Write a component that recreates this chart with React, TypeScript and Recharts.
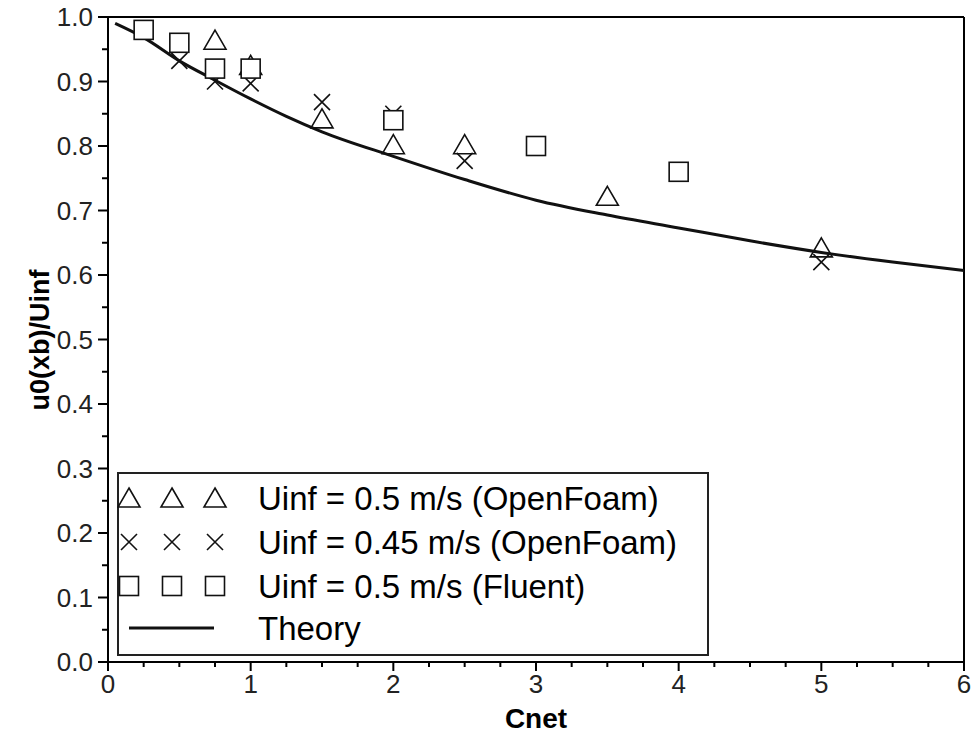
import React from 'react'
import {
  ComposedChart,
  Line,
  Scatter,
  XAxis,
  YAxis,
  ReferenceLine,
  Legend
} from 'recharts'

// measured points, [Cnet, u0(xb)/Uinf]
const openFoam05 = [
  { x: 0.75, y: 0.964 },
  { x: 1.0, y: 0.925 },
  { x: 1.5, y: 0.842 },
  { x: 2.0, y: 0.802 },
  { x: 2.5, y: 0.802 },
  { x: 3.5, y: 0.722 },
  { x: 5.0, y: 0.642 }
]

const openFoam045 = [
  { x: 0.5, y: 0.932 },
  { x: 0.75, y: 0.9 },
  { x: 1.0, y: 0.897 },
  { x: 1.5, y: 0.868 },
  { x: 2.0, y: 0.85 },
  { x: 2.5, y: 0.777 },
  { x: 5.0, y: 0.62 }
]

const fluent05 = [
  { x: 0.25, y: 0.98 },
  { x: 0.5, y: 0.96 },
  { x: 0.75, y: 0.92 },
  { x: 1.0, y: 0.92 },
  { x: 2.0, y: 0.84 },
  { x: 3.0, y: 0.8 },
  { x: 4.0, y: 0.76 }
]

const theory = [
  { x: 0.05, y: 0.99 },
  { x: 0.25, y: 0.968 },
  { x: 0.5, y: 0.932 },
  { x: 0.75, y: 0.902 },
  { x: 1.0, y: 0.873 },
  { x: 1.25, y: 0.846 },
  { x: 1.5, y: 0.822 },
  { x: 2.0, y: 0.784 },
  { x: 2.5, y: 0.748 },
  { x: 3.0, y: 0.716 },
  { x: 3.5, y: 0.693 },
  { x: 4.0, y: 0.673 },
  { x: 4.5, y: 0.653 },
  { x: 5.0, y: 0.635 },
  { x: 5.5, y: 0.62 },
  { x: 6.0, y: 0.607 }
]

const xTicks = [0, 0.25, 0.5, 0.75, 1, 1.25, 1.5, 1.75, 2, 2.25, 2.5, 2.75, 3, 3.25, 3.5, 3.75, 4, 4.25, 4.5, 4.75, 5, 5.25, 5.5, 5.75, 6]
const yTicks = [0, 0.05, 0.1, 0.15, 0.2, 0.25, 0.3, 0.35, 0.4, 0.45, 0.5, 0.55, 0.6, 0.65, 0.7, 0.75, 0.8, 0.85, 0.9, 0.95, 1]

const legendItems = [
  { name: 'Uinf = 0.5 m/s (OpenFoam)', mark: 'triangle' },
  { name: 'Uinf = 0.45 m/s (OpenFoam)', mark: 'cross' },
  { name: 'Uinf = 0.5 m/s (Fluent)', mark: 'square' },
  { name: 'Theory', mark: 'line' }
]

const FONT = '"Liberation Sans", Arial, sans-serif'
const INK = '#111'

const Triangle = ({ cx, cy }: any) => (
  <path
    d={`M${cx},${cy - 10} L${cx + 11},${cy + 9} L${cx - 11},${cy + 9} Z`}
    fill="none"
    stroke={INK}
    strokeWidth={1.6}
  />
)

const Cross = ({ cx, cy }: any) => (
  <path
    d={`M${cx - 8},${cy - 8} L${cx + 8},${cy + 8} M${cx - 8},${cy + 8} L${cx + 8},${cy - 8}`}
    stroke={INK}
    strokeWidth={1.6}
  />
)

const Square = ({ cx, cy }: any) => (
  <rect x={cx - 9.5} y={cy - 9.5} width={19} height={19} fill="#fff" stroke={INK} strokeWidth={1.6} />
)

const isMajor = (v: number, step: number) => Math.abs(v / step - Math.round(v / step)) < 1e-6

const XTick = ({ x, y, payload }: any) => {
  const major = isMajor(payload.value, 1)
  return (
    <g>
      <line x1={x} x2={x} y1={y} y2={y + (major ? 9 : 5)} stroke="#000" strokeWidth={2} />
      {major && (
        <text x={x} y={y + 31} textAnchor="middle" fontSize={26} fontFamily={FONT} fill="#222">
          {payload.value}
        </text>
      )}
    </g>
  )
}

const YTick = ({ x, y, payload }: any) => {
  const major = isMajor(payload.value, 0.1)
  return (
    <g>
      <line x1={x} x2={x - (major ? 10 : 6)} y1={y} y2={y} stroke="#000" strokeWidth={2} />
      {major && (
        <text x={x - 15} y={y + 9} textAnchor="end" fontSize={26} fontFamily={FONT} fill="#222">
          {payload.value.toFixed(1)}
        </text>
      )}
    </g>
  )
}

const markXs = [12, 55, 98]
const rowYs = [26, 70, 114, 156]

const LegendBox = () => (
  <svg width={592} height={184} style={{ display: 'block' }}>
    <rect x={1} y={1} width={590} height={182} fill="#fff" stroke="#222" strokeWidth={2} />
    {legendItems.map((item, i) => (
      <g key={item.name}>
        {item.mark === 'line' ? (
          <line x1={12} x2={97} y1={rowYs[i]} y2={rowYs[i]} stroke={INK} strokeWidth={3} />
        ) : (
          markXs.map((mx) =>
            item.mark === 'triangle' ? (
              <Triangle key={mx} cx={mx} cy={rowYs[i]} />
            ) : item.mark === 'cross' ? (
              <Cross key={mx} cx={mx} cy={rowYs[i]} />
            ) : (
              <Square key={mx} cx={mx} cy={rowYs[i]} />
            )
          )
        )}
        <text x={141} y={rowYs[i] + 12} fontSize={33} fontFamily={FONT} fill="#000">
          {item.name}
        </text>
      </g>
    ))}
  </svg>
)

const App = () => (
  <div style={{ position: 'absolute', left: 0, top: 0, background: '#fff' }}>
    <ComposedChart width={971} height={743} margin={{ top: 17, right: 7, left: 0, bottom: 0 }}>
      <XAxis
        dataKey="x"
        type="number"
        domain={[0, 6]}
        ticks={xTicks}
        interval={0}
        tickSize={0}
        tickMargin={0}
        tickLine={false}
        tick={<XTick />}
        height={81}
        axisLine={{ stroke: '#000', strokeWidth: 2 }}
        label={{
          content: () => (
            <text x={536} y={728} textAnchor="middle" fontSize={28} fontWeight="bold" fontFamily={FONT} fill="#000">
              Cnet
            </text>
          )
        }}
      />
      <YAxis
        dataKey="y"
        type="number"
        domain={[0, 1]}
        ticks={yTicks}
        interval={0}
        tickSize={0}
        tickMargin={0}
        tickLine={false}
        tick={<YTick />}
        width={108}
        axisLine={{ stroke: '#000', strokeWidth: 2 }}
        label={{
          content: () => (
            <text
              x={40}
              y={340}
              transform="rotate(-90 40 340)"
              textAnchor="middle"
              dominantBaseline="central"
              fontSize={27}
              fontWeight="bold"
              fontFamily={FONT}
              fill="#000"
            >
              u0(xb)/Uinf
            </text>
          )
        }}
      />
      <ReferenceLine y={1} stroke="#000" strokeWidth={2} />
      <ReferenceLine x={6} stroke="#000" strokeWidth={2} />
      <Line
        data={theory}
        dataKey="y"
        type="monotone"
        stroke={INK}
        strokeWidth={3}
        dot={false}
        activeDot={false}
        isAnimationActive={false}
        name="Theory"
      />
      <Scatter data={openFoam05} dataKey="y" shape={(p: any) => <Triangle cx={p.cx} cy={p.cy} />} isAnimationActive={false} />
      <Scatter data={openFoam045} dataKey="y" shape={(p: any) => <Cross cx={p.cx} cy={p.cy} />} isAnimationActive={false} />
      <Scatter data={fluent05} dataKey="y" shape={(p: any) => <Square cx={p.cx} cy={p.cy} />} isAnimationActive={false} />
      <Legend
        layout="horizontal"
        verticalAlign="middle"
        align="center"
        content={() => <LegendBox />}
        wrapperStyle={{ position: 'absolute', left: 117, top: 472, width: 592, height: 184 }}
      />
    </ComposedChart>
  </div>
)

export default App
